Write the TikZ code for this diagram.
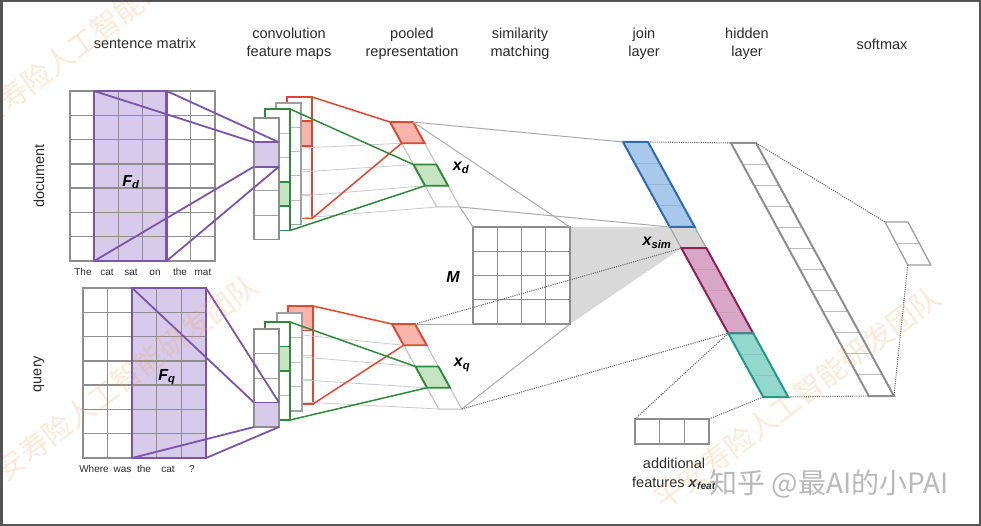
\documentclass[tikz,border=0pt]{standalone}
\usepackage{fontspec}
\setmainfont{Liberation Sans}
\newfontfamily\cjk{Noto Sans CJK SC}
\usetikzlibrary{calc}
\definecolor{gridgray}{HTML}{8E8E8E}
\definecolor{lightgrid}{HTML}{BDBDBD}
\definecolor{purp}{HTML}{7A55AA}
\definecolor{purpfill}{HTML}{D7CAEA}
\definecolor{redb}{HTML}{E4452F}
\definecolor{redfill}{HTML}{F8B6AA}
\definecolor{greenb}{HTML}{2F8A3C}
\definecolor{greenfill}{HTML}{C4E5C0}
\definecolor{blueb}{HTML}{2E6BB0}
\definecolor{bluefill}{HTML}{A8C8EC}
\definecolor{pinkb}{HTML}{8C2356}
\definecolor{pinkfill}{HTML}{D8A7C7}
\definecolor{tealb}{HTML}{1F9A8B}
\definecolor{tealfill}{HTML}{94D7CC}
\definecolor{simfill}{HTML}{D6D6D6}
\definecolor{shadegray}{HTML}{D9D9D9}
\definecolor{wm}{HTML}{F3A050}
\definecolor{dotc}{HTML}{707070}
\definecolor{framec}{HTML}{555555}
\definecolor{labc}{HTML}{2B2B2B}
\tikzset{
  lab/.style={font=\fontsize{14.5}{17.5}\selectfont, text=labc, align=center, inner sep=0pt},
  word/.style={font=\fontsize{10}{12}\selectfont, text=labc, inner sep=0pt, text height=7.5pt, text depth=2pt},
  bmath/.style={font=\fontsize{16}{18}\selectfont\bfseries\itshape, text=black, inner sep=0pt},
  gridl/.style={draw=gridgray, line width=1.3pt},
  outerl/.style={draw=gridgray, line width=2.8pt},
  filt/.style={draw=purp, line width=2.4pt},
  proj/.style={draw=purp, line width=1.8pt},
  redl/.style={draw=redb, line width=1.5pt},
  greenl/.style={draw=greenb, line width=1.5pt},
  faintl/.style={draw=lightgrid!80, line width=0.8pt},
  solidl/.style={draw=gridgray!75, line width=1pt},
  dotl/.style={draw=dotc, line width=1.1pt, dash pattern=on 1.1pt off 1.1pt},
  wmark/.style={font=\cjk\fontsize{29}{30}\selectfont, text=wm, opacity=0.22, rotate=37, inner sep=0pt},
}
\newcommand\featcol[9]{%
  \pgfmathsetmacro\fctot{#3*#4}%
  \pgfmathtruncatemacro\fcm{#3-1}%
  \fill[white] (#1,#2) rectangle ++(25,\fctot);
  \fill[#8] (#1,{#2+#7*#4}) rectangle ++(25,#4);
  \foreach \k in {1,...,\fcm} {\draw[#6, line width=0.9pt] (#1,{#2+\k*#4}) -- ++(25,0);}
  \draw[#9, line width=1.9pt] (#1,{#2+#7*#4}) rectangle ++(25,#4);
  \draw[#5, line width=1.9pt] (#1,#2) rectangle ++(25,\fctot);
}
\newcommand\pooledvec[3]{%
  \begin{scope}[shift={(#1,#2)}, xslant=-0.55]
    \filldraw[fill=white, draw=lightgrid, line width=1pt] (0,0) rectangle (23,85);
    \draw[lightgrid, line width=1pt] (0,21.25) -- (23,21.25) (0,63.75) -- (23,63.75);
    \filldraw[fill=redfill, draw=redb, line width=1.9pt] (0,0) rectangle (23,21.25);
    \filldraw[fill=greenfill, draw=greenb, line width=1.9pt] (0,42.5) rectangle (23,63.75);
    \coordinate (#3-tl) at (0,0);
    \coordinate (#3-tr) at (23,0);
    \coordinate (#3-l1) at (0,21.25);
    \coordinate (#3-l2) at (0,42.5);
    \coordinate (#3-l3) at (0,63.75);
    \coordinate (#3-bl) at (0,85);
    \coordinate (#3-br) at (23,85);
  \end{scope}
}
\begin{document}
\begin{tikzpicture}[x=1pt,y=-1pt]
\useasboundingbox (0,0) rectangle (981,526);
\fill[white] (0,0) rectangle (981,526);

% ---------- titles
\node[lab] (t1) at (145,43) {sentence matrix};
\node[lab] (t2) at (289,44) {convolution\\feature maps};
\node[lab] (t3) at (412,44) {pooled\\representation};
\node[lab] (t4) at (520,44) {similarity\\matching};
\node[lab] (t5) at (644,44) {join\\layer};
\node[lab] (t6) at (747,44) {hidden\\layer};
\node[lab] (t7) at (882,44) {softmax};
\node[lab, rotate=90] (tdoc) at (39,176) {document};
\node[lab, rotate=90] (tq) at (39,374) {query};

% ---------- document sentence matrix
\fill[white] (70,91) rectangle (215,261);
\fill[purpfill] (94.17,91) rectangle (166.67,261);
\foreach \i in {1,...,5} {\draw[gridl] ({70+\i*24.1667},91) -- ++(0,170);}
\foreach \j in {1,...,6} {\draw[gridl] (70,{91+\j*24.2857}) -- ++(145,0);}
\draw[outerl] (70,91) rectangle (215,261);
\coordinate (dF-tl) at (94.17,91);
\coordinate (dF-tr) at (166.67,91);
\coordinate (dF-bl) at (94.17,261);
\coordinate (dF-br) at (166.67,261);
\draw[filt] (dF-tl) rectangle (dF-br);
\node[bmath] (Fd) at (131,182) {F\textsubscript{d}};
\node[word] (w1) at (83,273) {The};
\node[word] (w2) at (107,273) {cat};
\node[word] (w3) at (131,273) {sat};
\node[word] (w4) at (155,273) {on};
\node[word] (w5) at (180,273) {the};
\node[word] (w6) at (203,273) {mat};

% ---------- query sentence matrix
\fill[white] (83,288) rectangle (206,458);
\fill[purpfill] (132.2,288) rectangle (206,458);
\foreach \i in {1,...,4} {\draw[gridl] ({83+\i*24.6},288) -- ++(0,170);}
\foreach \j in {1,...,6} {\draw[gridl] (83,{288+\j*24.2857}) -- ++(123,0);}
\draw[outerl] (83,288) rectangle (206,458);
\coordinate (qF-tl) at (132.2,288);
\coordinate (qF-tr) at (206,288);
\coordinate (qF-bl) at (132.2,458);
\coordinate (qF-br) at (206,458);
\draw[filt] (qF-tl) rectangle (qF-br);
\node[bmath] (Fq) at (167,377) {F\textsubscript{q}};
\node[word] (v1) at (94,470) {Where};
\node[word] (v2) at (122.5,470) {was};
\node[word] (v3) at (144,470) {the};
\node[word] (v4) at (168,470) {cat};
\node[word] (v5) at (192,470) {?};

% ---------- document feature maps
\featcol{287}{97}{5}{24.3}{draw=redb}{redb!35}{1}{redfill}{draw=redb}
\featcol{276}{103}{5}{24.3}{draw=gridgray!85}{lightgrid}{0}{white}{draw=none}
\featcol{265}{109}{5}{24.3}{draw=greenb}{lightgrid}{3}{greenfill}{draw=greenb}
\featcol{254}{118}{5}{24.3}{draw=gridgray}{gridgray!80}{1}{purpfill}{draw=purp}
\coordinate (dred-tr) at (312,97);
\coordinate (dred-br) at (312,218.5);
\coordinate (dgrn-tr) at (290,109);
\coordinate (dgrn-br) at (290,230.5);
\coordinate (dcell-tl) at (254,142.3);
\coordinate (dcell-tr) at (279,142.3);
\coordinate (dcell-bl) at (254,166.6);
\coordinate (dcell-br) at (279,166.6);
\coordinate (dg-a) at (301,148);
\coordinate (dg-b) at (301,172);
\coordinate (dg-c) at (301,196);
\coordinate (dg-d) at (301,218);

% ---------- query feature maps
\featcol{288}{306}{4}{24.5}{draw=redb}{redb!35}{0}{redfill}{draw=redb}
\featcol{277}{313}{4}{24.5}{draw=gridgray!85}{lightgrid}{0}{white}{draw=none}
\featcol{265}{322}{4}{24.5}{draw=greenb}{lightgrid}{1}{greenfill}{draw=greenb}
\featcol{254}{329}{4}{24.5}{draw=gridgray}{gridgray!80}{3}{purpfill}{draw=purp}
\coordinate (qred-tr) at (313,306);
\coordinate (qred-br) at (313,404);
\coordinate (qgrn-tr) at (290,322);
\coordinate (qgrn-br) at (290,420);
\coordinate (qcell-tl) at (254,402.5);
\coordinate (qcell-tr) at (279,402.5);
\coordinate (qcell-bl) at (254,427);
\coordinate (qcell-br) at (279,427);
\coordinate (qg-a) at (302,335);
\coordinate (qg-b) at (302,357);
\coordinate (qg-c) at (302,380);
\coordinate (qg-d) at (302,402);

% ---------- projection from filters
\draw[proj] (dF-tl) -- (dcell-tl);
\draw[proj] (dF-tr) -- (dcell-tr);
\draw[proj] (dF-bl) -- (dcell-bl);
\draw[proj] (dF-br) -- (dcell-br);
\draw[proj] (qF-tl) -- (qcell-tl);
\draw[proj] (qF-tr) -- (qcell-tr);
\draw[proj] (qF-bl) -- (qcell-bl);
\draw[proj] (qF-br) -- (qcell-br);

% ---------- pooled vectors
\pooledvec{390}{122}{xd}
\pooledvec{392}{324}{xq}
\draw[faintl] (dg-a) -- (xd-l1);
\draw[faintl] (dg-b) -- (xd-l2);
\draw[faintl] (dg-c) -- (xd-l3);
\draw[faintl] (dg-d) -- (xd-bl);
\draw[faintl] (qg-a) -- (xq-l1);
\draw[faintl] (qg-b) -- (xq-l2);
\draw[faintl] (qg-c) -- (xq-l3);
\draw[faintl] (qg-d) -- (xq-bl);
\draw[redl] (dred-tr) -- (xd-tl);
\draw[redl] (dred-br) -- (xd-l1);
\draw[greenl] (dgrn-tr) -- (xd-l2);
\draw[greenl] (dgrn-br) -- (xd-l3);
\draw[redl] (qred-tr) -- (xq-tl);
\draw[redl] (qred-br) -- (xq-l1);
\draw[greenl] (qgrn-tr) -- (xq-l2);
\draw[greenl] (qgrn-br) -- (xq-l3);
\node[bmath] (lxd) at (461,168) {x\textsubscript{d}};
\node[bmath] (lxq) at (462,365) {x\textsubscript{q}};

% ---------- join layer coordinates (scope drawn later)
\begin{scope}[shift={(623,142)}, xslant=-0.55]
  \coordinate (j-tl) at (0,0);
  \coordinate (j-tr) at (25,0);
  \coordinate (jsim-tl) at (0,85);
  \coordinate (jsim-bl) at (0,106.25);
  \coordinate (jpink-bl) at (0,191.25);
  \coordinate (jteal-bl) at (0,255);
  \coordinate (j-br) at (25,255);
\end{scope}

% ---------- similarity matrix M
\coordinate (M-tl) at (473,227);
\coordinate (M-tr) at (570,227);
\coordinate (M-bl) at (473,324);
\coordinate (M-br) at (570,324);
\fill[shadegray] (M-tr) -- (jsim-tl) -- (jsim-bl) -- (M-br) -- cycle;
\fill[white] (M-tl) rectangle (M-br);
\foreach \i in {1,2,3} {\draw[gridl] ({473+\i*24.25},227) -- ++(0,97);}
\foreach \j in {1,2,3} {\draw[gridl] (473,{227+\j*24.25}) -- ++(97,0);}
\draw[outerl] (M-tl) rectangle (M-br);
\node[bmath] (lM) at (453,277) {M};

% ---------- join layer
\begin{scope}[shift={(623,142)}, xslant=-0.55]
  \fill[bluefill] (0,0) rectangle (25,85);
  \foreach \k in {1,2,3} {\draw[blueb!50, line width=0.9pt] (0,{\k*21.25}) -- (25,{\k*21.25});}
  \filldraw[fill=simfill, draw=gridgray!80, line width=1.2pt] (0,85) rectangle (25,106.25);
  \draw[blueb, line width=2pt] (0,0) rectangle (25,85);
  \fill[pinkfill] (0,106.25) rectangle (25,191.25);
  \foreach \k in {6,7,8} {\draw[pinkb!45, line width=0.9pt] (0,{\k*21.25}) -- (25,{\k*21.25});}
  \draw[pinkb, line width=2pt] (0,106.25) rectangle (25,191.25);
  \fill[tealfill] (0,191.25) rectangle (25,255);
  \foreach \k in {10,11} {\draw[tealb!55, line width=0.9pt] (0,{\k*21.25}) -- (25,{\k*21.25});}
  \draw[tealb, line width=2pt] (0,191.25) rectangle (25,255);
\end{scope}
\node[bmath] (lxs) at (657,243) {x\textsubscript{sim}};

% ---------- hidden layer
\begin{scope}[shift={(731,143)}, xslant=-0.545]
  \fill[white] (0,0) rectangle (25,253);
  \foreach \k in {1,...,11} {\draw[lightgrid, line width=1pt] (0,{\k*21.083}) -- (25,{\k*21.083});}
  \draw[gridgray, line width=2pt] (0,0) rectangle (25,253);
  \coordinate (h-tl) at (0,0);
  \coordinate (h-tr) at (25,0);
  \coordinate (h-bl) at (0,253);
  \coordinate (h-br) at (25,253);
\end{scope}

% ---------- softmax
\begin{scope}[shift={(885,222)}, xslant=-0.53]
  \fill[white] (0,0) rectangle (23,43);
  \draw[lightgrid, line width=1pt] (0,21.5) -- (23,21.5);
  \draw[gridgray!85, line width=1.3pt] (0,0) rectangle (23,43);
  \coordinate (s-tl) at (0,0);
  \coordinate (s-bl) at (0,43);
\end{scope}

% ---------- additional features
\coordinate (af-tl) at (635,419);
\coordinate (af-tr) at (709,419);
\coordinate (af-br) at (709,444);
\fill[white] (af-tl) rectangle (af-br);
\draw[gridl] (659.7,419) -- (659.7,444) (684.3,419) -- (684.3,444);
\draw[gridgray, line width=2.2pt] (af-tl) rectangle (af-br);
\node[lab] (ladd) at (674,463) {additional};
\node[lab, anchor=west] (lfeat) at (632,483) {features \textbf{\textit{x}}\textsubscript{\textbf{\textit{feat}}}};

% ---------- connectors
\draw[solidl] (xd-tr) -- (j-tl);
\draw[solidl] (xd-br) -- (jsim-tl);
\draw[solidl] (xd-tr) -- (M-tr);
\draw[solidl] (xd-br) -- (M-tl);
\draw[solidl] (xq-tr) -- (M-bl);
\draw[solidl] (xq-br) -- (M-br);
\draw[dotl] (xq-tr) -- (jsim-bl);
\draw[dotl] (xq-br) -- (jpink-bl);
\draw[dotl] (af-tl) -- (jpink-bl);
\draw[dotl] (af-tr) -- (jteal-bl);
\draw[dotl] (j-tr) -- (h-tl);
\draw[dotl] (j-br) -- (h-bl);
\draw[dotl] (h-tr) -- (s-tl);
\draw[dotl] (s-bl) -- (h-br);

% ---------- overlays
\node[font=\cjk\fontsize{28}{30}\selectfont, text=gray!55, inner sep=0pt] (zh) at (829,484) {知乎 @最AI的小PAI};
\node[wmark] (wm1) at (94,34) {平安寿险人工智能研发团队};
\node[wmark] (wm2) at (115,386) {平安寿险人工智能研发团队};
\node[wmark] (wm3) at (797,398) {平安寿险人工智能研发团队};

\draw[framec, line width=2.5pt] (1.25,1.25) rectangle (979.75,524.75);
\end{tikzpicture}
\end{document}
